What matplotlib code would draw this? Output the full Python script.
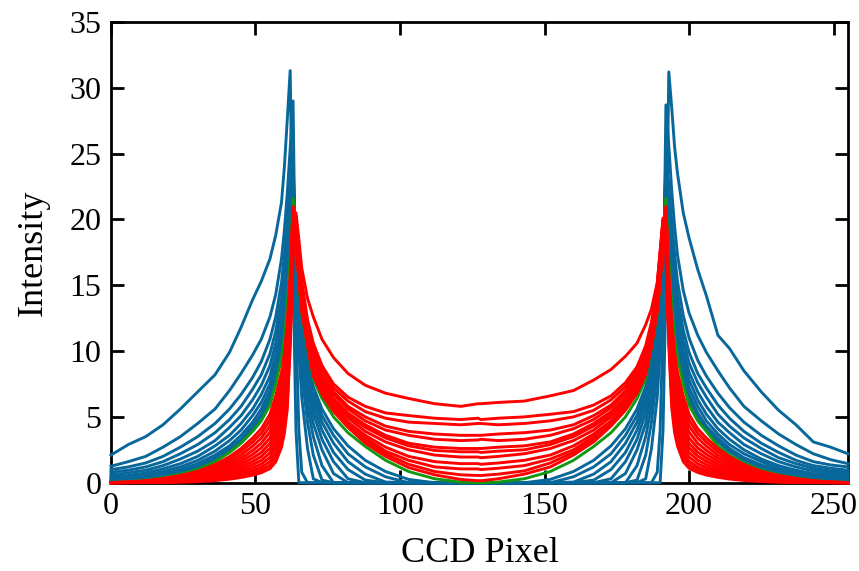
import matplotlib.pyplot as plt

x_pix = [0, 6, 12, 18, 24, 30, 36, 41, 45, 49, 52, 55, 57, 59, 60, 61, 62, 63,
         64, 65, 66, 68, 70, 73, 77, 82, 88, 95, 103, 112, 121, 127,
         128, 134, 143, 152, 160, 167, 173, 178, 182, 185, 187, 189, 190, 191,
         192, 193, 194, 195, 196, 198, 200, 203, 206, 210, 214, 219, 225, 231, 237, 243, 249, 255]

# blue profiles (intensity outside the two peaks)
b1 = [2.1, 2.9, 3.5, 4.4, 5.6, 6.9, 8.2, 9.9, 11.8, 13.9, 15.3, 17.0, 18.8, 21.3, 24.0, 27.6, 31.3, 16.0,
      4.0, 0, 0, 0, 0, 0, 0, 0, 0, 0, 0, 0, 0, 0,
      0, 0, 0, 0, 0, 0, 0, 0, 0, 0, 0, 0, 0, 4.0,
      15.0, 31.2, 28.5, 25.5, 23.5, 20.5, 18.6, 16.2, 14.2, 11.2, 10.2, 8.5, 6.9, 5.5, 4.4, 3.1, 2.7, 2.2]
b2 = [1.25, 1.6, 2.0, 2.7, 3.5, 4.5, 5.6, 7.0, 8.3, 9.7, 10.9, 12.6, 14.3, 17.0, 19.2, 22.0, 25.4, 29.0,
      12.0, 4.0, 0.8, 0, 0, 0, 0, 0, 0, 0, 0, 0, 0, 0,
      0, 0, 0, 0, 0, 0, 0, 0, 0, 0, 0, 0.8, 4.0, 12.0,
      28.7, 25.6, 22.2, 19.5, 17.3, 14.6, 12.9, 11.2, 9.9, 8.5, 7.2, 5.8, 4.7, 3.7, 2.9, 2.2, 1.75, 1.45]
b3 = [1.0, 1.2, 1.5, 2.0, 2.7, 3.5, 4.5, 5.6, 6.7, 8.0, 9.2, 10.9, 12.6, 15.2, 17.3, 19.8, 22.8, 25.0,
      15.0, 10.0, 6.5, 2.6, 0.3, 0, 0, 0, 0, 0, 0, 0, 0, 0,
      0, 0, 0, 0, 0, 0, 0, 0, 0, 0.3, 2.6, 6.5, 10.0, 15.0,
      25.2, 22.6, 19.9, 17.4, 15.3, 12.7, 11.0, 9.3, 8.1, 6.8, 5.7, 4.6, 3.6, 2.8, 2.1, 1.6, 1.35, 1.2]
b4 = [0.8, 0.95, 1.2, 1.6, 2.2, 2.9, 3.8, 4.8, 5.8, 7.1, 8.2, 9.8, 11.5, 14.0, 16.0, 18.5, 21.5, 24.3,
      16.0, 11.5, 8.3, 4.6, 2.1, 0.2, 0, 0, 0, 0, 0, 0, 0, 0,
      0, 0, 0, 0, 0, 0, 0, 0, 0.2, 2.1, 4.6, 8.3, 11.5, 16.0,
      24.4, 21.6, 18.6, 16.1, 14.1, 11.6, 9.9, 8.3, 7.2, 5.9, 4.9, 3.9, 3.0, 2.3, 1.7, 1.3, 1.1, 0.95]
b5 = [0.6, 0.75, 0.95, 1.3, 1.8, 2.4, 3.2, 4.2, 5.1, 6.3, 7.4, 8.9, 10.6, 13.0, 15.0, 17.5, 20.6, 23.8,
      16.5, 12.2, 9.2, 5.8, 3.5, 1.3, 0, 0, 0, 0, 0, 0, 0, 0,
      0, 0, 0, 0, 0, 0, 0, 0, 1.3, 3.5, 5.8, 9.2, 12.2, 16.5,
      23.9, 20.8, 17.8, 15.2, 13.2, 10.8, 9.1, 7.6, 6.5, 5.2, 4.3, 3.4, 2.6, 1.9, 1.45, 1.1, 0.9, 0.8]
b6 = [0.45, 0.55, 0.75, 1.05, 1.45, 2.0, 2.8, 3.6, 4.5, 5.6, 6.7, 8.1, 9.8, 12.2, 14.2, 16.7, 19.8, 23.4,
      17.0, 12.8, 9.9, 6.7, 4.5, 2.5, 0.7, 0, 0, 0, 0, 0, 0, 0,
      0, 0, 0, 0, 0, 0, 0, 0.7, 2.5, 4.5, 6.7, 9.9, 12.8, 17.0,
      23.5, 20.0, 17.0, 14.4, 12.4, 10.0, 8.4, 6.9, 5.8, 4.6, 3.8, 2.9, 2.2, 1.6, 1.2, 0.9, 0.75, 0.65]
b7 = [0.32, 0.4, 0.58, 0.85, 1.2, 1.7, 2.4, 3.2, 4.0, 5.1, 6.1, 7.5, 9.2, 11.5, 13.5, 16.0, 19.2, 23.0,
      17.3, 13.2, 10.4, 7.3, 5.3, 3.3, 1.6, 0.3, 0, 0, 0, 0, 0, 0,
      0, 0, 0, 0, 0, 0, 0.3, 1.6, 3.3, 5.3, 7.3, 10.4, 13.2, 17.3,
      23.1, 19.4, 16.3, 13.7, 11.7, 9.4, 7.8, 6.3, 5.2, 4.1, 3.3, 2.5, 1.8, 1.3, 0.95, 0.7, 0.58, 0.5]
b8 = [0.22, 0.3, 0.45, 0.7, 1.0, 1.45, 2.1, 2.8, 3.6, 4.6, 5.6, 7.0, 8.6, 10.9, 12.8, 15.3, 18.6, 22.7,
      17.6, 13.6, 10.9, 7.8, 5.9, 4.0, 2.3, 1.0, 0.2, 0, 0, 0, 0, 0,
      0, 0, 0, 0, 0, 0.2, 1.0, 2.3, 4.0, 5.9, 7.8, 10.9, 13.6, 17.6,
      22.8, 18.8, 15.6, 13.0, 11.1, 8.8, 7.2, 5.8, 4.7, 3.7, 2.9, 2.2, 1.6, 1.1, 0.8, 0.55, 0.45, 0.4]
b9 = [0.14, 0.2, 0.34, 0.55, 0.85, 1.25, 1.9, 2.6, 3.3, 4.3, 5.2, 6.6, 8.2, 10.4, 12.2, 14.8, 18.1, 22.4,
      17.9, 13.9, 11.3, 8.3, 6.4, 4.6, 3.0, 1.6, 0.65, 0.05, 0, 0, 0, 0,
      0, 0, 0, 0, 0.05, 0.65, 1.6, 3.0, 4.6, 6.4, 8.3, 11.3, 13.9, 17.9,
      22.5, 18.3, 15.0, 12.4, 10.5, 8.3, 6.7, 5.3, 4.3, 3.4, 2.6, 1.9, 1.35, 0.95, 0.65, 0.45, 0.35, 0.3]
b10 = [0.08, 0.14, 0.27, 0.47, 0.75, 1.12, 1.75, 2.45, 3.15, 4.1, 5.0, 6.3, 7.9, 10.0, 11.7, 14.3, 17.7, 22.1,
       18.1, 14.2, 11.7, 8.8, 6.9, 5.1, 3.6, 2.2, 1.2, 0.45, 0, 0, 0, 0,
       0, 0, 0, 0, 0.45, 1.2, 2.2, 3.6, 5.1, 6.9, 8.8, 11.7, 14.2, 18.1,
       22.2, 17.9, 14.5, 11.9, 10.1, 8.0, 6.4, 5.1, 4.1, 3.2, 2.45, 1.8, 1.2, 0.85, 0.55, 0.35, 0.25, 0.2]
b11 = [0.04, 0.1, 0.23, 0.42, 0.7, 1.05, 1.67, 2.37, 3.07, 4.0, 4.85, 6.1, 7.7, 9.8, 11.4, 13.9, 17.4, 21.9,
       18.3, 14.5, 12.1, 9.3, 7.3, 5.6, 4.1, 2.8, 1.7, 0.85, 0.25, 0, 0, 0,
       0, 0, 0, 0.25, 0.85, 1.7, 2.8, 4.1, 5.6, 7.3, 9.3, 12.1, 14.5, 18.3,
       22.0, 17.6, 14.1, 11.6, 9.9, 7.8, 6.2, 4.95, 4.0, 3.1, 2.35, 1.72, 1.1, 0.75, 0.47, 0.26, 0.14, 0.1]

# green profile (boundary case)
g1 = [0.02, 0.08, 0.2, 0.38, 0.65, 1.0, 1.6, 2.3, 3.0, 3.9, 4.7, 5.9, 7.5, 9.5, 11.0, 13.5, 17.0, 21.6,
      18.5, 15.0, 12.8, 10.2, 7.9, 6.4, 5.0, 3.8, 2.75, 1.7, 0.85, 0.3, 0.05, 0.0,
      0.0, 0.05, 0.3, 0.85, 1.7, 2.75, 3.8, 5.0, 6.4, 7.9, 10.2, 12.8, 15.0, 18.5,
      21.6, 17.0, 13.5, 11.0, 9.5, 7.5, 5.9, 4.7, 3.9, 2.8, 2.1, 1.5, 0.95, 0.6, 0.36, 0.18, 0.07, 0.02]

# red profiles (intensity between the two peaks)
r1 = [0.0, 0.0, 0.01, 0.02, 0.04, 0.08, 0.16, 0.27, 0.4, 0.57, 0.76, 1.07, 1.58, 2.7, 3.75, 5.6, 10.2, 17.0,
      20.5, 18.5, 16.3, 14.0, 12.6, 10.9, 9.5, 8.3, 7.4, 6.8, 6.4, 6.0, 5.8, 6.0,
      6.0, 6.1, 6.2, 6.6, 7.0, 7.8, 8.6, 9.6, 10.6, 12.0, 13.2, 15.2, 17.5, 20.0,
      17.2, 10.4, 5.7, 3.8, 2.8, 1.6, 1.1, 0.78, 0.58, 0.41, 0.28, 0.17, 0.09, 0.04, 0.02, 0.01, 0.0, 0.0]
r2 = [0.0, 0.0, 0.02, 0.03, 0.06, 0.12, 0.23, 0.37, 0.52, 0.73, 0.95, 1.32, 1.9, 3.1, 4.2, 6.2, 10.8, 17.6,
      20.3, 17.8, 15.3, 12.4, 10.6, 8.9, 7.5, 6.5, 5.8, 5.3, 5.1, 4.9, 4.8, 4.9,
      4.8, 4.9, 5.0, 5.2, 5.4, 5.9, 6.6, 7.6, 8.8, 10.4, 12.2, 15.1, 17.6, 20.1,
      17.7, 10.9, 6.3, 4.3, 3.2, 1.95, 1.35, 0.97, 0.74, 0.53, 0.38, 0.24, 0.13, 0.06, 0.03, 0.02, 0.0, 0.0]
r3 = [0.0, 0.01, 0.02, 0.04, 0.09, 0.17, 0.31, 0.48, 0.66, 0.92, 1.17, 1.6, 2.25, 3.55, 4.7, 6.8, 11.3, 18.0,
      20.1, 17.5, 15.0, 12.0, 10.2, 8.6, 7.2, 6.2, 5.4, 4.9, 4.6, 4.5, 4.4, 4.5,
      4.5, 4.4, 4.5, 4.7, 5.0, 5.5, 6.3, 7.3, 8.5, 10.1, 11.9, 14.9, 17.4, 19.9,
      18.1, 11.4, 6.9, 4.8, 3.6, 2.3, 1.62, 1.18, 0.93, 0.67, 0.49, 0.32, 0.18, 0.09, 0.04, 0.02, 0.01, 0.0]
r4 = [0.0, 0.01, 0.03, 0.06, 0.12, 0.22, 0.39, 0.6, 0.82, 1.13, 1.42, 1.92, 2.65, 4.0, 5.2, 7.4, 11.8, 18.4,
      19.9, 17.2, 14.7, 11.7, 9.8, 8.2, 6.9, 5.8, 5.0, 4.3, 3.9, 3.7, 3.6, 3.6,
      3.6, 3.7, 3.8, 4.0, 4.4, 5.1, 5.9, 7.0, 8.2, 9.8, 11.6, 14.6, 17.1, 19.7,
      18.5, 11.9, 7.5, 5.3, 4.1, 2.7, 1.95, 1.44, 1.14, 0.83, 0.61, 0.4, 0.23, 0.12, 0.06, 0.03, 0.01, 0.0]
r5 = [0.0, 0.01, 0.04, 0.08, 0.16, 0.28, 0.48, 0.73, 1.0, 1.36, 1.7, 2.26, 3.05, 4.45, 5.7, 8.0, 12.3, 18.8,
      19.7, 17.0, 14.5, 11.5, 9.6, 8.0, 6.7, 5.6, 4.7, 4.0, 3.6, 3.3, 3.2, 3.25,
      3.3, 3.2, 3.3, 3.6, 4.1, 4.8, 5.7, 6.8, 8.0, 9.6, 11.4, 14.4, 16.9, 19.5,
      18.9, 12.4, 8.1, 5.8, 4.5, 3.1, 2.3, 1.72, 1.37, 1.0, 0.74, 0.49, 0.29, 0.16, 0.08, 0.04, 0.01, 0.0]
r6 = [0.0, 0.02, 0.05, 0.1, 0.2, 0.35, 0.59, 0.88, 1.2, 1.6, 2.0, 2.62, 3.5, 4.95, 6.2, 8.6, 12.8, 19.2,
      19.5, 16.7, 14.2, 11.3, 9.3, 7.7, 6.4, 5.3, 4.4, 3.6, 3.0, 2.7, 2.6, 2.6,
      2.6, 2.7, 2.8, 3.1, 3.7, 4.5, 5.4, 6.5, 7.8, 9.4, 11.2, 14.1, 16.6, 19.3,
      19.3, 12.9, 8.7, 6.3, 5.0, 3.55, 2.65, 2.02, 1.62, 1.2, 0.89, 0.6, 0.35, 0.2, 0.1, 0.05, 0.02, 0.0]
r7 = [0.0, 0.02, 0.06, 0.13, 0.25, 0.42, 0.7, 1.04, 1.4, 1.87, 2.3, 3.0, 3.95, 5.45, 6.8, 9.2, 13.3, 19.6,
      19.3, 16.5, 14.0, 11.1, 9.1, 7.5, 6.2, 5.1, 4.2, 3.4, 2.8, 2.45, 2.35, 2.35,
      2.3, 2.4, 2.5, 2.9, 3.5, 4.3, 5.2, 6.3, 7.6, 9.2, 11.0, 13.9, 16.4, 19.1,
      19.7, 13.4, 9.3, 6.9, 5.5, 4.0, 3.0, 2.32, 1.88, 1.4, 1.05, 0.71, 0.42, 0.25, 0.13, 0.06, 0.02, 0.0]
r8 = [0.01, 0.03, 0.07, 0.16, 0.3, 0.5, 0.83, 1.22, 1.62, 2.15, 2.65, 3.4, 4.45, 6.0, 7.4, 9.8, 13.8, 20.0,
      19.1, 16.3, 13.8, 10.9, 8.8, 7.3, 6.0, 4.9, 3.9, 3.1, 2.5, 2.1, 1.95, 1.95,
      1.9, 2.0, 2.2, 2.6, 3.2, 4.0, 5.0, 6.1, 7.4, 9.0, 10.8, 13.7, 16.2, 18.9,
      20.1, 13.9, 9.9, 7.5, 6.1, 4.5, 3.4, 2.65, 2.16, 1.62, 1.22, 0.84, 0.5, 0.3, 0.16, 0.07, 0.03, 0.01]
r9 = [0.01, 0.03, 0.09, 0.19, 0.36, 0.58, 0.96, 1.4, 1.85, 2.45, 3.0, 3.85, 4.95, 6.6, 8.0, 10.4, 14.3, 20.4,
      18.9, 16.0, 13.6, 10.7, 8.6, 7.1, 5.8, 4.6, 3.6, 2.7, 2.0, 1.6, 1.45, 1.45,
      1.4, 1.5, 1.7, 2.1, 2.8, 3.7, 4.7, 5.9, 7.2, 8.8, 10.6, 13.5, 15.9, 18.7,
      20.4, 14.4, 10.5, 8.1, 6.7, 5.0, 3.85, 3.0, 2.46, 1.85, 1.4, 0.97, 0.58, 0.36, 0.19, 0.09, 0.03, 0.01]
r10 = [0.01, 0.04, 0.11, 0.23, 0.42, 0.67, 1.1, 1.6, 2.1, 2.78, 3.38, 4.3, 5.5, 7.2, 8.6, 11.0, 14.8, 20.7,
       18.7, 15.8, 13.4, 10.6, 8.4, 6.9, 5.6, 4.4, 3.4, 2.4, 1.7, 1.2, 1.05, 1.05,
       1.0, 1.1, 1.3, 1.8, 2.5, 3.5, 4.5, 5.7, 7.0, 8.6, 10.5, 13.3, 15.7, 18.5,
       20.7, 14.9, 11.1, 8.7, 7.3, 5.5, 4.3, 3.4, 2.78, 2.1, 1.6, 1.1, 0.67, 0.42, 0.23, 0.11, 0.04, 0.01]
r11 = [0.01, 0.05, 0.13, 0.27, 0.48, 0.76, 1.24, 1.8, 2.36, 3.1, 3.75, 4.75, 6.05, 7.8, 9.2, 11.6, 15.3, 20.9,
       18.5, 15.5, 13.2, 10.5, 8.2, 6.8, 5.5, 4.3, 3.2, 2.2, 1.4, 0.85, 0.6, 0.55,
       0.55, 0.65, 0.9, 1.5, 2.3, 3.3, 4.4, 5.6, 6.9, 8.4, 10.4, 13.1, 15.4, 18.3,
       20.9, 15.4, 11.7, 9.3, 7.9, 6.1, 4.75, 3.75, 3.1, 2.36, 1.8, 1.24, 0.76, 0.48, 0.27, 0.13, 0.05, 0.01]
r12 = [0.01, 0.06, 0.16, 0.32, 0.56, 0.86, 1.38, 1.98, 2.6, 3.4, 4.1, 5.2, 6.6, 8.4, 9.8, 12.2, 15.8, 21.0,
       18.4, 15.3, 13.0, 10.4, 8.1, 6.7, 5.4, 4.2, 3.0, 2.0, 1.15, 0.6, 0.25, 0.15,
       0.15, 0.3, 0.65, 1.2, 2.1, 3.1, 4.3, 5.5, 6.8, 8.2, 10.3, 13.0, 15.2, 18.2,
       21.0, 15.9, 12.3, 9.9, 8.4, 6.6, 5.2, 4.1, 3.4, 2.6, 1.98, 1.38, 0.86, 0.56, 0.32, 0.16, 0.06, 0.01]

x_ticks = [0, 50, 100, 150, 200, 250]
y_ticks = [0, 5, 10, 15, 20, 25, 30, 35]

blue_curves = [b1, b2, b3, b4, b5, b6, b7, b8, b9, b10, b11]
red_curves = [r1, r2, r3, r4, r5, r6, r7, r8, r9, r10, r11, r12]

plt.rcParams['font.family'] = ['Liberation Serif', 'DejaVu Serif']

fig = plt.figure(figsize=(8.59, 5.71), dpi=100)
ax = fig.add_axes([0.1292, 0.1546, 0.858, 0.807])

lw = 2.1
for ys in blue_curves:
    ax.plot(x_pix, ys, color='#08689b', lw=lw, zorder=3, clip_on=False)
ax.plot(x_pix, g1, color='#119911', lw=lw, zorder=4, clip_on=False)
for ys in red_curves:
    ax.plot(x_pix, ys, color='#ff0000', lw=lw, zorder=5, clip_on=False)

ax.set_xlim(0, 255)
ax.set_ylim(0, 35)
ax.set_xticks(x_ticks)
ax.set_yticks(y_ticks)
ax.tick_params(direction='in', length=9.5, width=2, top=True, right=True,
               labelsize=23, pad=7)
for s in ax.spines.values():
    s.set_linewidth(2)

ax.set_xlabel('CCD Pixel', fontsize=26, labelpad=11)
ax.set_ylabel('Intensity', fontsize=26, labelpad=14)

fig.savefig('out.png', dpi=100)
